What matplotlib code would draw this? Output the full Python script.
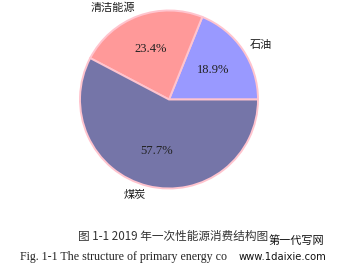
import matplotlib

matplotlib.use("Agg")
import matplotlib.pyplot as plt

# 2019 primary energy consumption structure
categories = ["石油", "清洁能源", "煤炭"]
shares = [18.9, 23.4, 57.7]
colors = ["#9999FF", "#FF9999", "#7575A8"]

caption_cn = "图 1-1 2019 年一次性能源消费结构图"
# the rest of the English caption is hidden under the site watermark
caption_en = "Fig. 1-1 The structure of primary energy co"
watermark = ["第一代写网", "www.1daixie.com"]

CJK = ["Noto Sans CJK SC", "DejaVu Sans"]
SERIF = ["Liberation Serif", "DejaVu Serif"]

W, H = 343, 269
fig = plt.figure(figsize=(W / 100, H / 100), dpi=100)
fig.patch.set_facecolor("white")

# pie centre ~ (169, 99.5) px, radius ~89 px
cx, cy, r = 169, 99.5, 89
ax = fig.add_axes([(cx - r) / W, 1 - (cy + r) / H, 2 * r / W, 2 * r / H])

wedges, texts, autotexts = ax.pie(
    shares,
    labels=categories,
    colors=colors,
    startangle=0,
    counterclock=True,
    autopct="%.1f%%",
    pctdistance=0.6,
    labeldistance=1.1,
    wedgeprops=dict(edgecolor="#FFC4CE", linewidth=1.4),
    textprops=dict(fontsize=8, color="#1a1a1a"),
)
for t in texts:
    t.set_fontfamily(CJK)
    t.set_fontsize(8)
for t in autotexts:
    t.set_fontfamily(SERIF)
    t.set_fontsize(9)
    t.set_color("#222222")

ax.set_xlim(-1, 1)
ax.set_ylim(-1, 1)
ax.set_aspect("auto")

fig.text(0.5 * (76 + 271) / W, 1 - 236 / H, caption_cn, ha="center", va="center",
         fontsize=8.4, family=CJK, color="#333333")
fig.text(20 / W, 1 - 257 / H, caption_en, ha="left", va="center",
         fontsize=8.6, family=SERIF, color="#222222")

# site watermark sitting at the end of the captions
fig.text(296 / W, 1 - 241 / H, watermark[0], ha="center", va="center",
         fontsize=8, family=CJK, color="#111111")
fig.text(282 / W, 1 - 257 / H, watermark[1], ha="center", va="center",
         fontsize=7.2, family=["DejaVu Sans"], color="#111111")

fig.savefig("out.png", dpi=100, facecolor="white")
plt.close(fig)
